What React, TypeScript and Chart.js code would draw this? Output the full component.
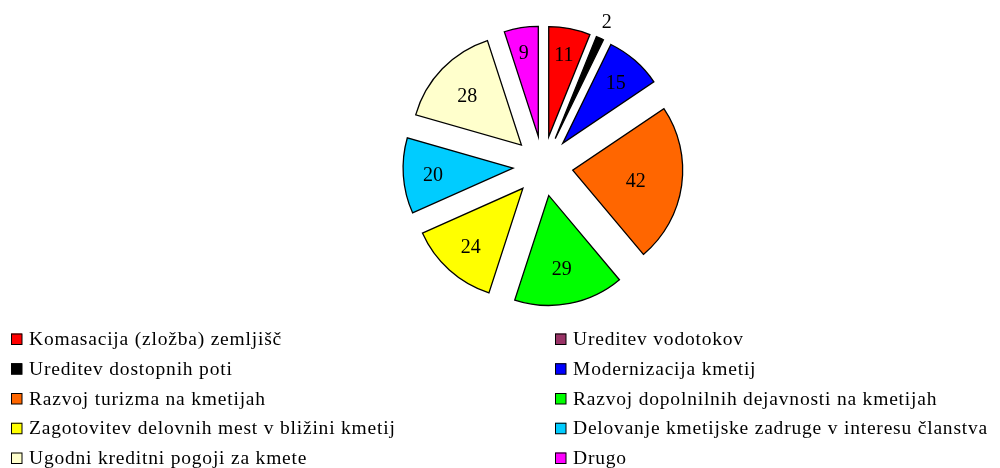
import React, { useEffect, useRef } from "react";
import { Chart, registerables } from "chart.js";

Chart.register(...registerables);

const categories = [
  "Komasacija (zložba) zemljišč",
  "Ureditev vodotokov",
  "Ureditev dostopnih poti",
  "Modernizacija kmetij",
  "Razvoj turizma na kmetijah",
  "Razvoj dopolnilnih dejavnosti na kmetijah",
  "Zagotovitev delovnih mest v bližini kmetij",
  "Delovanje kmetijske zadruge v interesu članstva",
  "Ugodni kreditni pogoji za kmete",
  "Drugo",
];

const values = [11, 0, 2, 15, 42, 29, 24, 20, 28, 9];

const colors = [
  "#FF0000",
  "#993366",
  "#000000",
  "#0000FF",
  "#FF6600",
  "#00FF00",
  "#FFFF00",
  "#00CCFF",
  "#FFFFCC",
  "#FF00FF",
];

const FONT = '19.5px "Liberation Serif", "Times New Roman", serif';
const LABEL_FONT = '20px "Liberation Serif", "Times New Roman", serif';
const EXPLODE = 30;
const RADIUS = 110;

const explodePlugin = {
  id: "explode",
  afterDatasetsUpdate(chart: any) {
    const meta = chart.getDatasetMeta(0);
    meta.data.forEach((el: any) => {
      const mid = (el.startAngle + el.endAngle) / 2;
      el.x += Math.cos(mid) * EXPLODE;
      el.y += Math.sin(mid) * EXPLODE;
    });
  },
};

const labelPlugin = {
  id: "sliceLabels",
  afterDatasetsDraw(chart: any) {
    const ctx = chart.ctx;
    const meta = chart.getDatasetMeta(0);
    ctx.save();
    ctx.font = LABEL_FONT;
    ctx.fillStyle = "#000";
    ctx.textAlign = "center";
    ctx.textBaseline = "middle";
    meta.data.forEach((el: any, i: number) => {
      const v = values[i];
      if (!v) return;
      const span = ((el.endAngle - el.startAngle) * 180) / Math.PI;
      const mid = (el.startAngle + el.endAngle) / 2;
      let d: number;
      if (span < 10) d = el.outerRadius + 19;
      else d = el.outerRadius * (0.84 - 0.003 * span);
      ctx.fillText(String(v), el.x + Math.cos(mid) * d - 1, el.y + Math.sin(mid) * d + 2.5);
    });
    ctx.restore();
  },
};

const legendPlugin = {
  id: "gridLegend",
  afterDraw(chart: any) {
    const ctx = chart.ctx;
    ctx.save();
    ctx.font = FONT;
    ctx.textBaseline = "middle";
    ctx.textAlign = "left";
    const colX = [11, 555];
    const rowY0 = 339;
    const rowStep = 29.75;
    categories.forEach((name, i) => {
      const col = i % 2;
      const row = Math.floor(i / 2);
      const x = colX[col];
      const y = rowY0 + row * rowStep;
      ctx.fillStyle = colors[i];
      ctx.fillRect(x, y - 5.5, 11, 11);
      ctx.strokeStyle = "#000";
      ctx.lineWidth = 1;
      ctx.strokeRect(x + 0.5, y - 5.5 + 0.5, 10.5, 10.5);
      ctx.fillStyle = "#000";
      (ctx as any).letterSpacing = "0.8px";
      ctx.fillText(name, x + 18, y + 1);
      (ctx as any).letterSpacing = "0px";
    });
    ctx.restore();
  },
};

export default function App() {
  const ref = useRef<HTMLCanvasElement>(null);
  useEffect(() => {
    if (!ref.current) return;
    const chart = new Chart(ref.current, {
      type: "pie",
      data: {
        labels: categories,
        datasets: [
          {
            data: values,
            backgroundColor: colors,
            borderColor: "#000",
            borderWidth: (c: any) => (values[c.dataIndex] ? 1.3 : 0),
            borderJoinStyle: "miter",
            radius: RADIUS,
          } as any,
        ],
      },
      options: {
        responsive: false,
        animation: false,
        events: [],
        layout: { padding: { left: 86, right: 0, top: 0, bottom: 136 } },
        plugins: {
          legend: { display: false },
          tooltip: { enabled: false },
          title: { display: false },
        },
      },
      plugins: [explodePlugin, labelPlugin, legendPlugin],
    });
    return () => chart.destroy();
  }, []);
  return (
    <div style={{ position: "absolute", left: 0, top: 0, width: 1000, height: 468, background: "#fff" }}>
      <canvas ref={ref} width={1000} height={468} style={{ display: "block" }} />
    </div>
  );
}
